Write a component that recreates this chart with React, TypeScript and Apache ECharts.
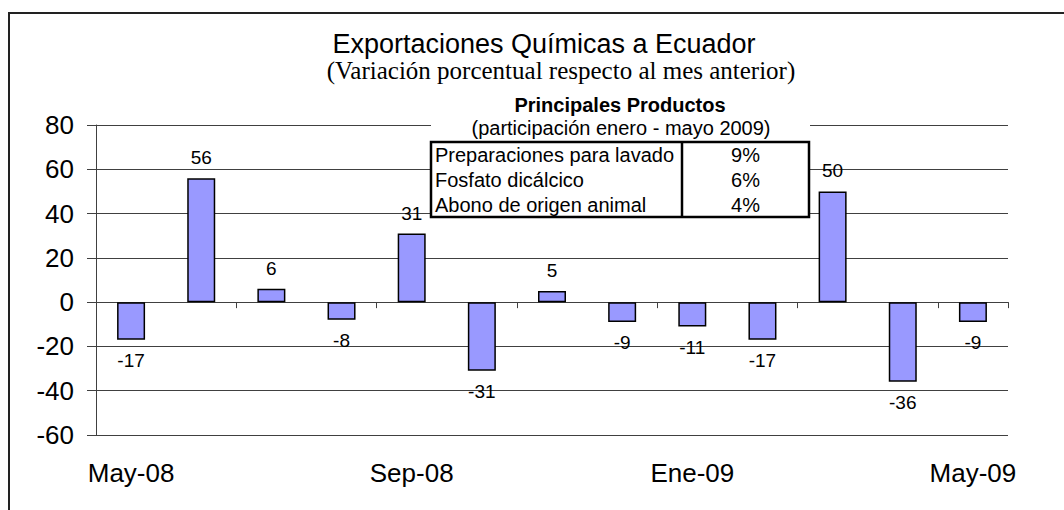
import React, { useEffect, useRef } from "react";
import * as echarts from "echarts";

const categories = ["May-08", "Jun-08", "Jul-08", "Ago-08", "Sep-08", "Oct-08", "Nov-08", "Dic-08", "Ene-09", "Feb-09", "Mar-09", "Abr-09", "May-09"];
const values = [-17, 56, 6, -8, 31, -31, 5, -9, -11, -17, 50, -36, -9];
const yTicks = { min: -60, max: 80, interval: 20 };
const title = "Exportaciones Químicas a Ecuador";
const subtitle = "(Variación porcentual respecto al mes anterior)";
const tableTitle = "Principales Productos";
const tableSubtitle = "(participación enero - mayo 2009)";
const products = ["Preparaciones para lavado", "Fosfato dicálcico", "Abono de origen animal"];
const shares = ["9%", "6%", "4%"];

const SANS = "'Liberation Sans', Arial, sans-serif";
const SERIF = "'Liberation Serif', 'Times New Roman', serif";

export default function App() {
  const ref = useRef<HTMLDivElement>(null);
  useEffect(() => {
    if (!ref.current) return;
    const chart = echarts.init(ref.current, null, { renderer: "svg" });
    const tableLeft = 431, tableRight = 809, tableTop = 142, rowH = 25, divX = 682;
    const graphics: any[] = [
      { type: "rect", shape: { x: 9, y: 13, width: 1200, height: 700 }, style: { fill: "none", stroke: "#222", lineWidth: 2 }, z: 0, silent: true },
      { type: "text", x: 544, y: 44, style: { text: title, font: `27px ${SANS}`, fill: "#000", align: "center", verticalAlign: "middle" }, z: 10 },
      { type: "text", x: 561, y: 70, style: { text: subtitle, font: `25px ${SERIF}`, fill: "#000", align: "center", verticalAlign: "middle" }, z: 10 },
      { type: "rect", shape: { x: tableLeft, y: 92, width: tableRight - tableLeft + 1, height: tableTop + rowH * 3 - 92 }, style: { fill: "#fff" }, z: 5 },
      { type: "text", x: 620, y: 105, style: { text: tableTitle, font: `bold 20px ${SANS}`, fill: "#000", align: "center", verticalAlign: "middle" }, z: 10 },
      { type: "text", x: 621, y: 128, style: { text: tableSubtitle, font: `20px ${SANS}`, fill: "#000", align: "center", verticalAlign: "middle" }, z: 10 },
      { type: "rect", shape: { x: tableLeft, y: tableTop, width: tableRight - tableLeft, height: rowH * 3 }, style: { fill: "none", stroke: "#000", lineWidth: 2.5 }, z: 10 },
      { type: "line", shape: { x1: divX, y1: tableTop, x2: divX, y2: tableTop + rowH * 3 }, style: { stroke: "#000", lineWidth: 2.5 }, z: 10 },
    ];
    products.forEach((p, i) => {
      graphics.push({ type: "text", x: tableLeft + 4, y: tableTop + 13 + rowH * i, style: { text: p, font: `20px ${SANS}`, fill: "#000", align: "left", verticalAlign: "middle" }, z: 10 });
      graphics.push({ type: "text", x: (divX + tableRight) / 2, y: tableTop + 13 + rowH * i, style: { text: shares[i], font: `20px ${SANS}`, fill: "#000", align: "center", verticalAlign: "middle" }, z: 10 });
    });
    chart.setOption({
      animation: false,
      backgroundColor: "#fff",
      grid: { left: 96, right: 56, top: 125, bottom: 75, containLabel: false },
      xAxis: [
        {
          type: "category",
          data: categories,
          axisLine: { onZero: true, lineStyle: { color: "#404040", width: 1 } },
          axisTick: { show: true, interval: 1, length: 6, lineStyle: { color: "#404040" } },
          axisLabel: { show: false },
        },
        {
          type: "category",
          data: categories,
          position: "bottom",
          axisLine: { show: false, onZero: false },
          axisTick: { show: false },
          axisLabel: { show: true, interval: 3, margin: 25, fontSize: 26, fontFamily: SANS, color: "#000" },
        },
      ],
      yAxis: {
        type: "value",
        min: yTicks.min,
        max: yTicks.max,
        interval: yTicks.interval,
        axisLine: { show: true, lineStyle: { color: "#404040", width: 1 } },
        axisTick: { show: true, length: 9, lineStyle: { color: "#404040" } },
        axisLabel: { fontSize: 26, fontFamily: SANS, color: "#000", margin: 22 },
        splitLine: { show: true, lineStyle: { color: "#404040", width: 1 } },
      },
      series: [
        {
          type: "bar",
          xAxisIndex: 0,
          barWidth: 28,
          data: values.map((v) => ({
            value: v,
            label: { position: v >= 0 ? "top" : "bottom" },
          })),
          itemStyle: { color: "#9999FF", borderColor: "#000", borderWidth: 1.5 },
          label: { show: true, distance: 11, fontSize: 19, fontFamily: SANS, color: "#000" },
        },
      ],
      graphic: graphics,
    });
    return () => chart.dispose();
  }, []);
  return <div ref={ref} style={{ position: "fixed", left: 0, top: 0, width: 1064, height: 510 }} />;
}
